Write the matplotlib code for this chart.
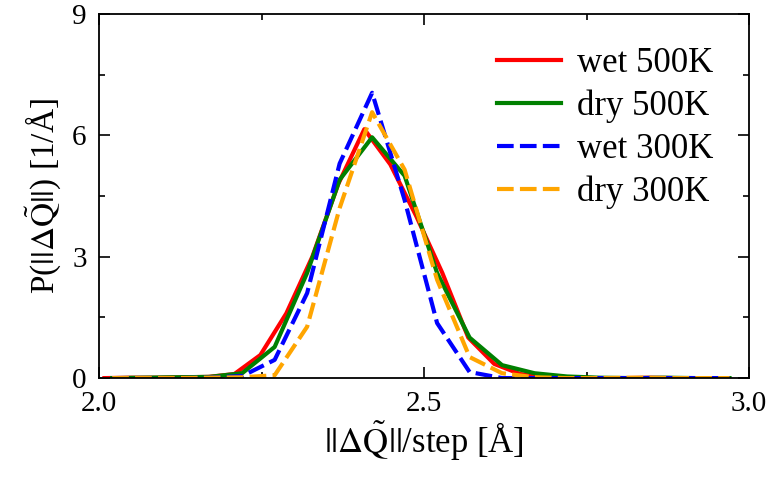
import matplotlib
matplotlib.use("Agg")
import matplotlib.pyplot as plt
from matplotlib.ticker import MultipleLocator
import numpy as np

# bin centres (0.05 grid) and red series on its own 0.04 grid
x_grid = np.round(np.arange(2.02, 3.0, 0.05), 3)
x_red = np.round(np.arange(2.008, 3.0, 0.04), 3)

wet_500 = [0.0, 0.01, 0.01, 0.02, 0.03, 0.1, 0.57, 1.6, 3.0, 4.8, 6.15, 5.28,
           4.0, 2.6, 1.0, 0.35, 0.1, 0.03, 0.01, 0.0, 0.0, 0.01, 0.0, 0.0, 0.0]
dry_500 = [0.0, 0.01, 0.02, 0.03, 0.12, 0.77, 2.6, 4.9, 5.95, 5.0, 2.6, 1.0,
           0.32, 0.12, 0.04, 0.01, 0.0, 0.01, 0.0, 0.0]
wet_300 = [0.0, 0.0, 0.0, 0.01, 0.05, 0.45, 2.1, 5.3, 7.05, 4.4, 1.36, 0.15,
           0.0, 0.0, 0.0, 0.0, 0.0, 0.0, 0.0, 0.0]
dry_300 = [0.0, 0.0, 0.0, 0.01, 0.02, 0.07, 1.27, 4.2, 6.57, 5.15, 2.43, 0.52,
           0.12, 0.02, 0.0, 0.0, 0.01, 0.0, 0.0, 0.0]

plt.rcParams["font.family"] = ["Liberation Serif", "DejaVu Serif"]
plt.rcParams["mathtext.fontset"] = "stix"

fig = plt.figure(figsize=(7.69, 4.78), dpi=100)
ax = fig.add_axes([0.129, 0.209, 0.845, 0.762])

dash = (0, (4, 1.5))
ax.plot(x_red, wet_500, color="red", lw=3, label="wet 500K")
ax.plot(x_grid, dry_500, color="green", lw=3, label="dry 500K")
ax.plot(x_grid, wet_300, color="blue", lw=3, ls=dash, label="wet 300K")
ax.plot(x_grid, dry_300, color="orange", lw=3, ls=dash, label="dry 300K")

ax.set_xlim(2.0, 3.0)
ax.set_ylim(0, 9)
ax.xaxis.set_major_locator(MultipleLocator(0.5))
ax.xaxis.set_minor_locator(MultipleLocator(0.25))
ax.yaxis.set_major_locator(MultipleLocator(3))
ax.yaxis.set_minor_locator(MultipleLocator(1.5))
ax.xaxis.set_major_formatter(matplotlib.ticker.FormatStrFormatter("%.1f"))
ax.tick_params(which="both", direction="in", labelsize=21, width=1.2,
               top=True, right=True)
ax.tick_params(which="major", length=8, pad=9)
ax.tick_params(which="minor", length=4)
for s in ax.spines.values():
    s.set_linewidth(1.3)

ax.set_xlabel(r"$||\Delta\tilde{\mathrm{Q}}||$/step [Å]", fontsize=25, labelpad=2)
ax.set_ylabel(r"P($||\Delta\tilde{\mathrm{Q}}||$) [1/Å]", fontsize=24, labelpad=6)

ax.legend(loc="upper right", frameon=False, fontsize=25, handlelength=1.85,
          handletextpad=0.45, labelspacing=0.28, borderaxespad=0.3,
          bbox_to_anchor=(0.982, 0.975))

fig.savefig("out.png", dpi=100)
